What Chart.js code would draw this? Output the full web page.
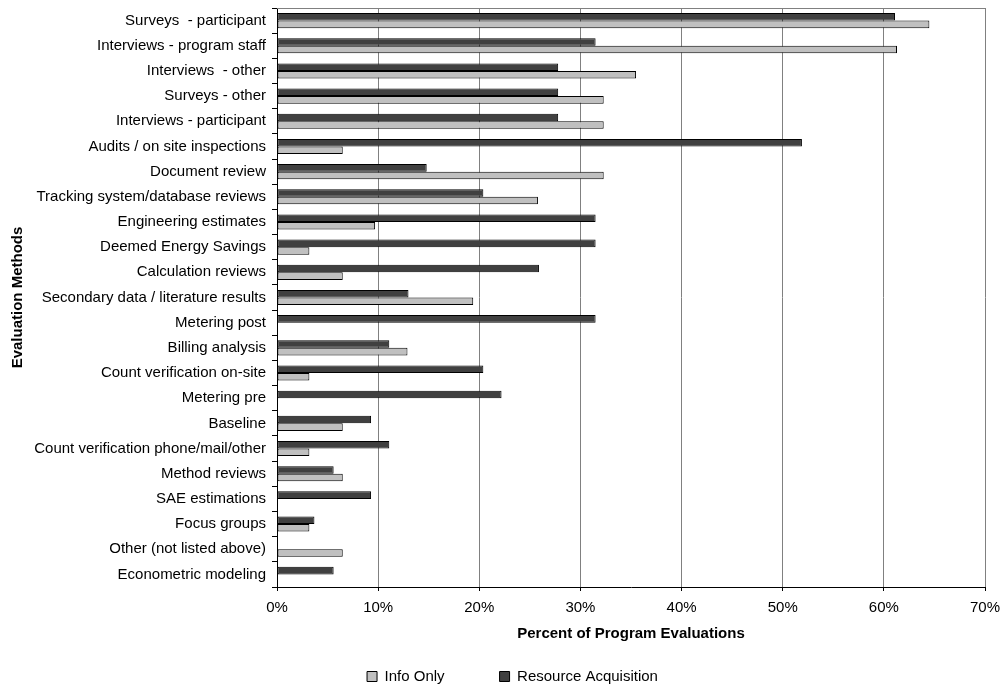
<!DOCTYPE html>
<html>
<head>
<meta charset="utf-8">
<style>
  html, body { margin: 0; padding: 0; background: #ffffff; }
  #wrap { width: 1003px; height: 686px; position: relative; }
</style>
<script src="https://cdn.jsdelivr.net/npm/chart.js@4/dist/chart.umd.min.js"></script>
</head>
<body>
<div id="wrap"><canvas id="chart"></canvas></div>
<script>
// Evaluation methods, top to bottom
const categories = [
  "Surveys  - participant",
  "Interviews - program staff",
  "Interviews  - other",
  "Surveys - other",
  "Interviews - participant",
  "Audits / on site inspections",
  "Document review",
  "Tracking system/database reviews",
  "Engineering estimates",
  "Deemed Energy Savings",
  "Calculation reviews",
  "Secondary data / literature results",
  "Metering post",
  "Billing analysis",
  "Count verification on-site",
  "Metering pre",
  "Baseline",
  "Count verification phone/mail/other",
  "Method reviews",
  "SAE estimations",
  "Focus groups",
  "Other (not listed above)",
  "Econometric modeling"
];

// Percent of program evaluations using each method
const resourceAcquisition = [61.1, 31.5, 27.8, 27.8, 27.8, 51.9, 14.8, 20.4, 31.5, 31.5, 25.9, 13.0, 31.5, 11.1, 20.4, 22.2, 9.3, 11.1, 5.6, 9.3, 3.7, 0, 5.6];
const infoOnly            = [64.5, 61.3, 35.5, 32.3, 32.3, 6.5, 32.3, 25.8, 9.7, 3.2, 6.5, 19.4, 0, 12.9, 3.2, 0, 6.5, 3.2, 6.5, 0, 3.2, 6.5, 0];

const xTicks = [0, 10, 20, 30, 40, 50, 60, 70];
const seriesNames = ["Resource Acquisition", "Info Only"];

const FONT = "'Liberation Sans', Arial, Helvetica, sans-serif";
const SIZE = 15;

// Grey line along the top edge of the plot area
const plotFrame = {
  id: 'plotFrame',
  beforeDatasetsDraw(chart) {
    const { ctx, chartArea: a } = chart;
    ctx.save();
    ctx.strokeStyle = '#808080';
    ctx.lineWidth = 1;
    ctx.beginPath();
    ctx.moveTo(a.left, Math.round(a.top) + 0.5);
    ctx.lineTo(a.right, Math.round(a.top) + 0.5);
    ctx.stroke();
    ctx.restore();
  }
};

new Chart(document.getElementById('chart'), {
  type: 'bar',
  data: {
    labels: categories,
    datasets: [
      {
        label: seriesNames[0],
        data: resourceAcquisition,
        backgroundColor: '#404040',
        borderColor: '#000000',
        borderWidth: 1,
        borderSkipped: false,
        categoryPercentage: 0.6,
        barPercentage: 1.0
      },
      {
        label: seriesNames[1],
        data: infoOnly,
        backgroundColor: '#c0c0c0',
        borderColor: '#000000',
        borderWidth: 1,
        borderSkipped: false,
        categoryPercentage: 0.6,
        barPercentage: 1.0
      }
    ]
  },
  options: {
    indexAxis: 'y',
    responsive: true,
    maintainAspectRatio: false,
    animation: false,
    layout: { padding: { left: 22, right: 0, top: 8, bottom: -8 } },
    plugins: {
      tooltip: { enabled: false },
      legend: {
        position: 'bottom',
        reverse: true,
        labels: {
          boxWidth: 10,
          boxHeight: 10,
          padding: 55,
          color: '#000000',
          font: { family: FONT, size: SIZE }
        }
      }
    },
    scales: {
      x: {
        min: 0,
        max: 70,
        afterBuildTicks(scale) {
          scale.ticks = xTicks.map(v => ({ value: v }));
        },
        afterFit(scale) {
          scale.height = 27;
          scale.paddingLeft = 0;
          scale.paddingRight = 18;
        },
        ticks: {
          color: '#000000',
          padding: 8,
          font: { family: FONT, size: SIZE },
          callback: v => v + '%'
        },
        grid: {
          color: '#808080',
          tickColor: '#000000',
          tickLength: 4
        },
        border: { color: '#000000' },
        title: {
          display: true,
          text: 'Percent of Program Evaluations',
          color: '#000000',
          font: { family: FONT, size: SIZE, weight: 'bold' },
          padding: { top: 0, bottom: -29 }
        }
      },
      y: {
        afterFit(scale) {
          scale.width = 255;
          scale.paddingTop = 0;
          scale.paddingBottom = 0;
        },
        ticks: {
          color: '#000000',
          padding: 6,
          autoSkip: false,
          font: { family: FONT, size: SIZE }
        },
        grid: {
          offset: true,
          drawOnChartArea: false,
          color: '#000000',
          tickLength: 5
        },
        border: { color: '#000000' },
        title: {
          display: true,
          text: 'Evaluation Methods',
          color: '#000000',
          font: { family: FONT, size: SIZE, weight: 'bold' },
          padding: { top: -13, bottom: 0 }
        }
      }
    }
  },
  plugins: [plotFrame]
});
</script>
</body>
</html>
